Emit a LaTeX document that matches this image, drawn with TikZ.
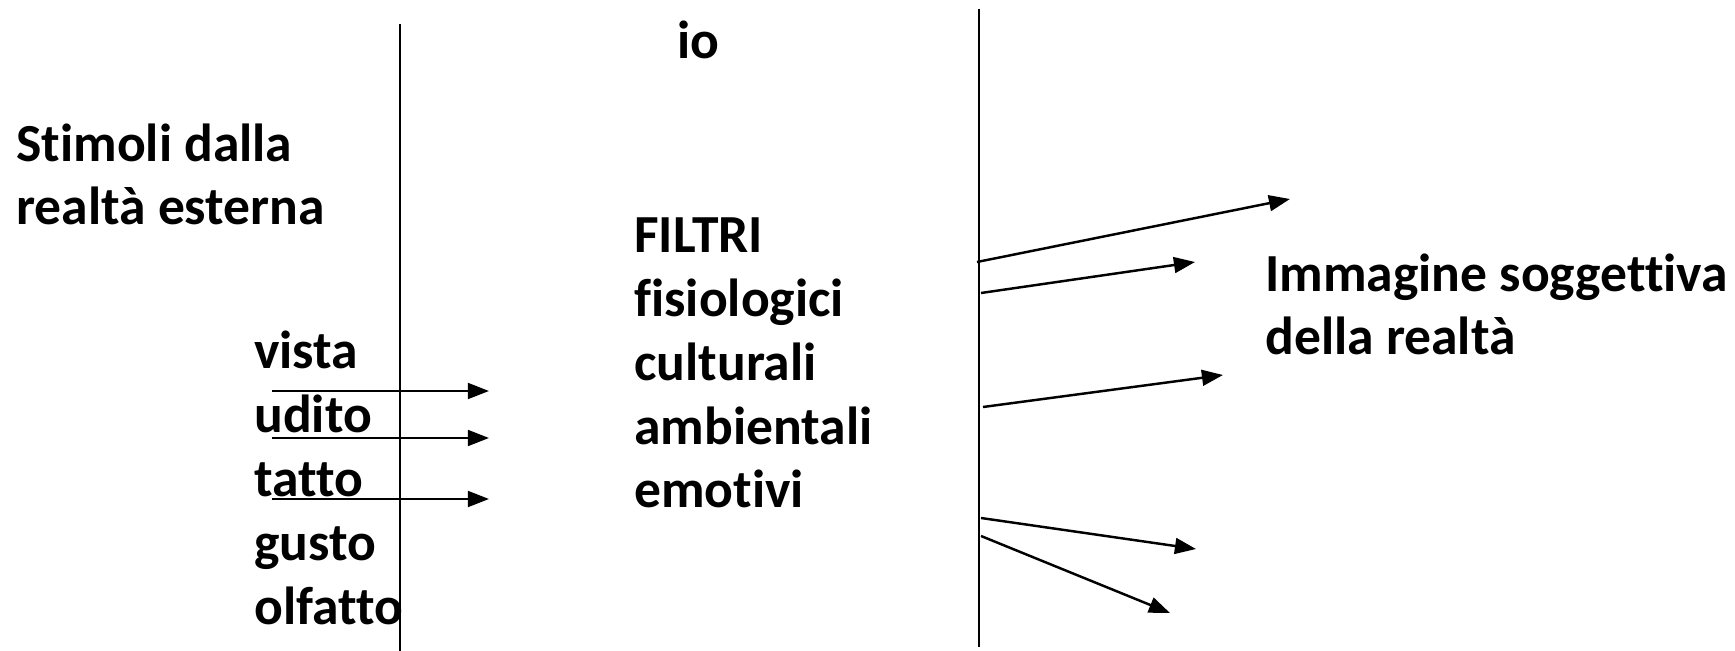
\documentclass[tikz,border=0pt]{standalone}
\usepackage{fontspec}
\setmainfont[Ligatures=NoCommon]{Carlito}
\usetikzlibrary{arrows.meta}

\tikzset{
    txt/.style={inner sep=0pt, anchor=base west, align=left,
        font=\fontsize{30.5}{36.4}\selectfont\bfseries},
    wall/.style={line width=1pt},
    ray/.style={line width=1.4pt, -{Triangle[length=12pt,width=9pt]}},
}

\begin{document}
\begin{tikzpicture}[x=0.02cm, y=-0.02cm]
    \useasboundingbox (0,0) rectangle (1735,651);

    \coordinate (l1) at (400,24);
    \coordinate (l2) at (400,651);
    \coordinate (r1) at (979,9);
    \coordinate (r2) at (979,647);
    \draw[wall] (l1) -- (l2);
    \draw[wall] (r1) -- (r2);

    % base anchor sits on the last line
    \node[txt] (io) at (677,59) {io};
    \node[txt] (stimoli) at (16,225) {Stimoli dalla\\realtà esterna};
    \node[txt] (filtri) at (634,508) {FILTRI\\fisiologici\\culturali\\ambientali\\emotivi};
    \node[txt] (sensi) at (254,624) {vista\\udito\\tatto\\gusto\\olfatto};
    \node[txt] (immagine) at (1265,355) {Immagine soggettiva\\della realtà};

    \foreach \y [count=\i] in {391,438,499} {
        \coordinate (s\i) at (272,\y);
        \coordinate (t\i) at (489,\y);
        \draw[ray] (s\i) -- (t\i);
    }

    \foreach \xa/\ya/\xb/\yb [count=\i] in
        {977/262/1290/199, 981/293/1195/262, 983/407/1223/375,
         981/518/1196/549, 981/536/1170/613} {
        \coordinate (u\i) at (\xa,\ya);
        \coordinate (v\i) at (\xb,\yb);
        \draw[ray] (u\i) -- (v\i);
    }
\end{tikzpicture}
\end{document}
